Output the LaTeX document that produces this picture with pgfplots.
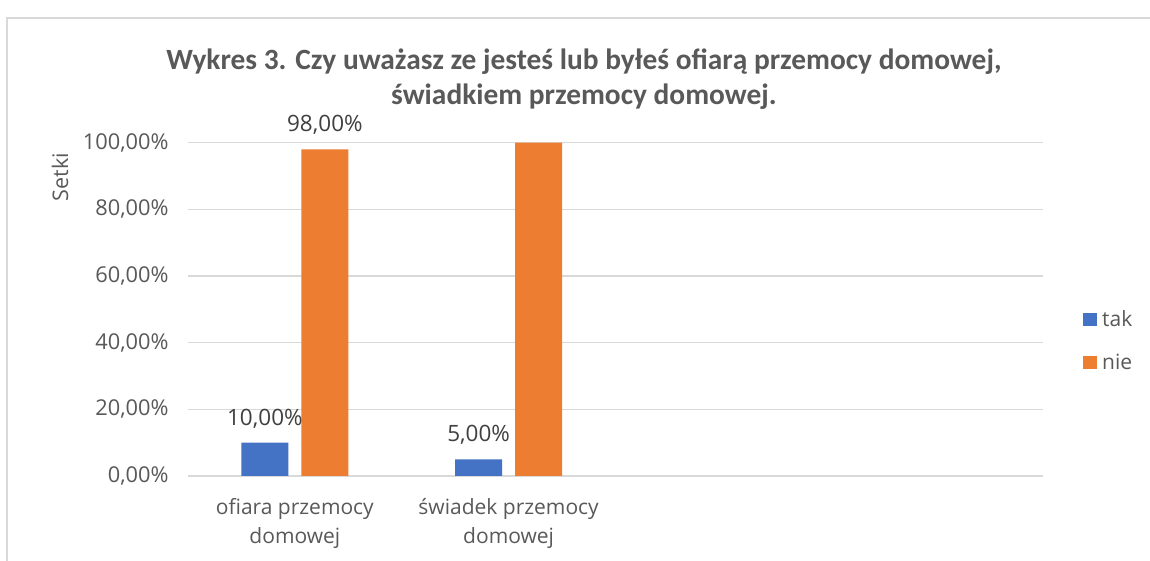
\documentclass[border=0pt]{standalone}
\usepackage{pgfplots}
\pgfplotsset{compat=1.18}
\usepackage{fontspec}
\setmainfont{Open Sans}
\newfontfamily\titlefont{Carlito}
\definecolor{txt}{HTML}{595959}
\definecolor{lbl}{HTML}{404040}
\definecolor{gridc}{HTML}{D9D9D9}
\definecolor{cblue}{HTML}{4472C4}
\definecolor{corange}{HTML}{ED7D31}
\begin{document}
\begin{tikzpicture}[x=1pt,y=1pt]
\path[use as bounding box, fill=white] (0pt,0pt) rectangle (1150pt,561pt);
\draw[gridc, line width=1.5pt] (7pt,0pt) -- (7pt,543pt) -- (1150pt,543pt);
\node[align=center, text=txt, font=\titlefont\bfseries\fontsize{29.4}{35}\selectfont] at (584pt,482pt) {Wykres 3. Czy uważasz ze jesteś lub byłeś ofiarą przemocy domowej,\\ świadkiem przemocy domowej.};
\node[rotate=90, text=txt, font=\fontsize{21.5}{25}\selectfont] at (60pt,384pt) {Setki};
\begin{axis}[
  at={(188pt,85pt)}, anchor=south west,
  scale only axis, width=855pt, height=333.3pt,
  xmin=-0.5, xmax=3.5, ymin=0, ymax=100,
  clip=false,
  axis line style={draw=none},
  major tick length=0pt,
  tick style={draw=none},
  ybar=13pt, bar width=47pt,
  xtick={0,1},
  xticklabels={ofiara przemocy\\domowej, świadek przemocy\\domowej},
  xticklabel style={align=center, font=\fontsize{21}{29}\selectfont, text=txt, yshift=-19pt},
  ytick={0,20,40,60,80,100},
  yticklabels={{0,00\%},{20,00\%},{40,00\%},{60,00\%},{80,00\%},{100,00\%}},
  yticklabel style={font=\fontsize{21.8}{24}\selectfont, text=txt, xshift=-16pt},
  ymajorgrids,
  grid style={gridc, line width=1.5pt},
  point meta=explicit symbolic,
  nodes near coords,
  nodes near coords style={font=\fontsize{22.5}{24}\selectfont, text=lbl, yshift=11pt},
  legend style={at={(1.0468,0.405)}, anchor=west, draw=none, fill=none,
    font=\fontsize{21}{24}\selectfont, text=txt, row sep=22pt, inner sep=0pt,
    nodes={inner xsep=5pt}},
  legend cell align=left,
  legend image code/.code={\draw[#1, draw=none] (0pt,-6.5pt) rectangle (14pt,6.5pt);},
]
\addplot[fill=cblue, draw=none] coordinates {(0,10) [10,00\%] (1,5) [5,00\%]};
\addplot[fill=corange, draw=none] coordinates {(0,98) [98,00\%] (1,100) []};
\legend{tak, nie}
\end{axis}
\end{tikzpicture}
\end{document}
